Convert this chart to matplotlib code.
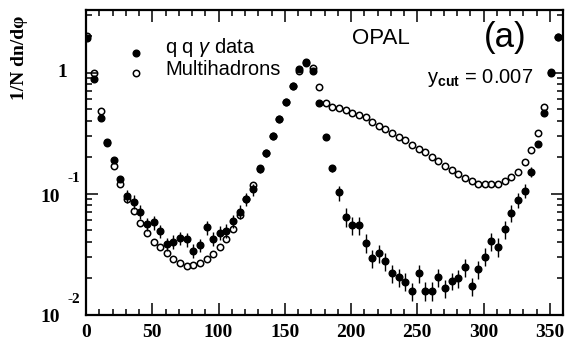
import numpy as np
import matplotlib
matplotlib.use("Agg")
import matplotlib.pyplot as plt
from matplotlib.ticker import LogLocator, MultipleLocator, NullFormatter

plt.rcParams['mathtext.fontset'] = 'custom'
plt.rcParams['mathtext.rm'] = 'Liberation Sans'
plt.rcParams['mathtext.it'] = 'Liberation Sans:italic'
plt.rcParams['mathtext.bf'] = 'Liberation Serif:bold'
plt.rcParams['mathtext.sf'] = 'Liberation Sans:bold'

# ---- data ----
phi = np.arange(1, 360, 5)  # 72 bin positions (degrees)

qqg = [1.94, 0.88, 0.42, 0.267, 0.189, 0.131, 0.0953, 0.0855, 0.0707, 0.056,
       0.0578, 0.049, 0.0383, 0.040, 0.0427, 0.0418, 0.0337, 0.0375, 0.0526, 0.0423,
       0.0474, 0.0493, 0.0592, 0.0707, 0.0895, 0.108, 0.160, 0.215, 0.299, 0.410,
       0.574, 0.773, 1.08, 1.23, 1.03, 0.563, 0.295, 0.162, 0.102, 0.0643,
       0.0549, 0.0549, 0.0392, 0.0291, 0.0324, 0.0278, 0.0219, 0.0203, 0.0187, 0.0156,
       0.0219, 0.0157, 0.0157, 0.0203, 0.0165, 0.0190, 0.0199, 0.0245, 0.0172, 0.0236,
       0.0301, 0.0407, 0.0363, 0.0506, 0.0694, 0.0884, 0.105, 0.151, 0.257, 0.46,
       0.985, 1.98]

qqg_err = [0.06, 0.03, 0.015, 0.01, 0.008, 0.007, 0.012, 0.011, 0.009, 0.0073,
           0.0075, 0.0064, 0.005, 0.0052, 0.0055, 0.0054, 0.0044, 0.0049, 0.0068, 0.0055,
           0.0062, 0.0064, 0.0077, 0.0092, 0.011, 0.012, 0.012, 0.013, 0.015, 0.018,
           0.02, 0.025, 0.03, 0.035, 0.03, 0.02, 0.013, 0.011, 0.0145, 0.011,
           0.0093, 0.0093, 0.0067, 0.005, 0.0055, 0.0047, 0.0037, 0.0035, 0.0032, 0.0027,
           0.0037, 0.0027, 0.0027, 0.0035, 0.0028, 0.0032, 0.0034, 0.0042, 0.0029, 0.004,
           0.0051, 0.0069, 0.0062, 0.0086, 0.011, 0.013, 0.014, 0.014, 0.015, 0.02,
           0.03, 0.06]

multi = [2.0, 0.99, 0.48, 0.263, 0.169, 0.12, 0.0895, 0.0721, 0.0574, 0.0469,
         0.040, 0.0363, 0.0321, 0.0286, 0.0268, 0.025, 0.0259, 0.0265, 0.0286, 0.0315,
         0.0359, 0.0418, 0.0509, 0.0664, 0.0895, 0.118, 0.162, 0.215, 0.30, 0.41,
         0.575, 0.775, 1.03, 1.2, 1.10, 0.755, 0.563, 0.522, 0.506, 0.49,
         0.466, 0.446, 0.426, 0.392, 0.363, 0.341, 0.315, 0.295, 0.277, 0.252,
         0.233, 0.219, 0.201, 0.186, 0.170, 0.156, 0.144, 0.135, 0.127, 0.121,
         0.119, 0.119, 0.121, 0.127, 0.138, 0.151, 0.181, 0.229, 0.318, 0.515,
         1.01, 1.98]

xticks = [0, 50, 100, 150, 200, 250, 300, 350]
yticks = [1, 0.1, 0.01]

serif_bold = dict(family='Liberation Serif', weight='bold')

fig = plt.figure(figsize=(5.65, 3.42), dpi=100)
ax = fig.add_axes([86/565, 1-314.5/342, (563-86)/565, (314.5-10)/342])
ax.set_yscale('log')
ax.set_xlim(0, 360)
ax.set_ylim(0.01, 3.29)

ax.errorbar(phi, qqg, yerr=qqg_err, fmt='o', color='black', ms=4.8,
            elinewidth=1.0, capsize=0, zorder=3)
ax.plot(phi, multi, 'o', mfc='none', mec='black', ms=4.6, mew=1.1, zorder=4)

# ticks
ax.set_xticks(xticks)
ax.xaxis.set_minor_locator(MultipleLocator(10))
ax.yaxis.set_major_locator(LogLocator(base=10, numticks=10))
ax.yaxis.set_minor_locator(LogLocator(base=10, subs=np.arange(2, 10), numticks=20))
ax.yaxis.set_major_formatter(NullFormatter())
ax.yaxis.set_minor_formatter(NullFormatter())
ax.tick_params(which='both', direction='in', top=True, right=True, width=1.1)
ax.tick_params(which='major', length=8.5)
ax.tick_params(which='minor', length=4.2)
ax.tick_params(axis='x', which='major', pad=7, labelsize=14)
for lab in ax.get_xticklabels():
    lab.set_fontfamily('Liberation Serif')
    lab.set_fontweight('bold')
for s in ax.spines.values():
    s.set_linewidth(1.6)

# y tick labels (10^n style)
for v in yticks:
    if v == 1:
        ax.annotate('1', xy=(0, v), xycoords=('axes fraction', 'data'),
                    xytext=(-24, 0), textcoords='offset pixels',
                    ha='center', va='center', fontsize=14, **serif_bold)
    else:
        e = int(round(np.log10(v)))
        ax.annotate('10', xy=(0, v), xycoords=('axes fraction', 'data'),
                    xytext=(-26, -3.5), textcoords='offset pixels',
                    ha='right', va='center', fontsize=14, **serif_bold)
        ax.annotate(str(e), xy=(0, v), xycoords=('axes fraction', 'data'),
                    xytext=(-18, 15), textcoords='offset pixels',
                    ha='left', va='center', fontsize=11, **serif_bold)

fig.text(20/565, 1-58/342, '1/N dn/d\u03c6', rotation=90, ha='center',
         va='center', fontsize=14, **serif_bold)

# legend (manual, as in the original figure)
ax.plot([0.105], [0.859], 'o', color='black', ms=4.8, transform=ax.transAxes, clip_on=False)
ax.plot([0.105], [0.793], 'o', mfc='none', mec='black', ms=4.6, mew=1.1,
        transform=ax.transAxes, clip_on=False)
fig.text(165/565, 1-53/342, r'q q $\gamma$ data', ha='left', va='baseline',
         fontsize=14.5, family='Liberation Sans')
fig.text(165/565, 1-75/342, 'Multihadrons', ha='left', va='baseline',
         fontsize=14.5, family='Liberation Sans')

fig.text(352/565, 1-39/342, 'OPAL', ha='left', va='center', fontsize=16,
         family='Liberation Sans')
fig.text(505/565, 1-37/342, '(a)', ha='center', va='center', fontsize=25,
         family='Liberation Sans')
fig.text(533/565, 1-83/342, r'y$_{\mathsf{cut}}$ = 0.007', ha='right', va='baseline',
         fontsize=14.5, family='Liberation Sans')

fig.savefig('out.png', dpi=100)
